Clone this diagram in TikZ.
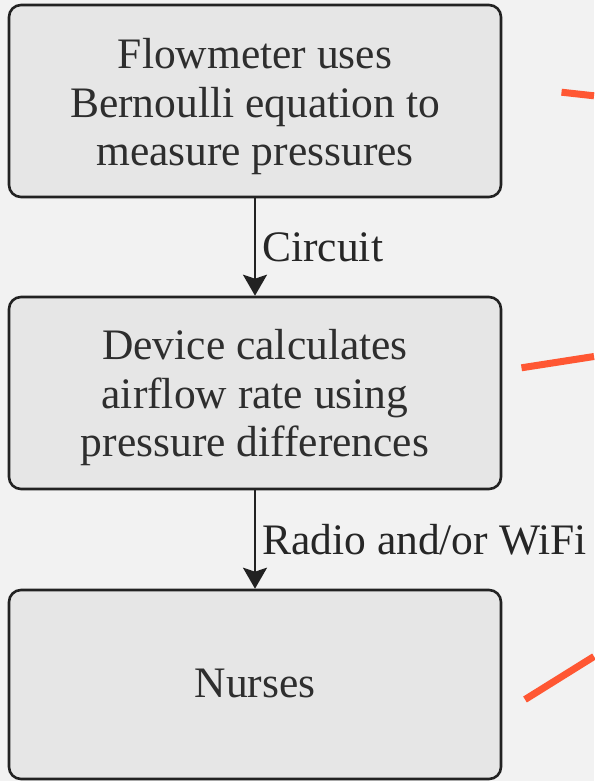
\documentclass[tikz,border=0pt]{standalone}
\usepackage{fontspec}
\setmainfont{Liberation Serif}
\usetikzlibrary{arrows.meta}

\definecolor{pagebg}{HTML}{F2F2F2}
\definecolor{boxfill}{HTML}{E6E6E6}
\definecolor{boxline}{HTML}{222222}
\definecolor{inktext}{HTML}{2E2E2E}
\definecolor{accent}{HTML}{FF5733}

\tikzset{
  stepbox/.style={draw=boxline, line width=2.6pt, fill=boxfill, rounded corners=12pt,
    minimum width=492pt, minimum height=192pt, inner sep=0pt},
  steptext/.style={align=center, text=inktext, inner sep=0pt,
    font=\fontsize{43.5}{48.5}\selectfont},
  flowarrow/.style={draw=boxline, line width=2.5pt,
    -{Stealth[length=21pt,width=24pt,inset=4pt]}},
  flowlabel/.style={anchor=west, xshift=6pt, inner sep=0pt, text=black!85,
    font=\fontsize{43.5}{48}\selectfont},
  accentline/.style={draw=accent, line width=7pt}
}

\begin{document}
\begin{tikzpicture}[x=1pt, y=-1pt]
  % page
  \fill[pagebg] (0,0) rectangle (594,781);
  \useasboundingbox (0,0) rectangle (594,781);

  % process steps
  \node[stepbox] (flow)   at (255,101)   {};
  \node[stepbox] (device) at (255,393)   {};
  \node[stepbox, minimum height=189pt] (nurses) at (255,684.5) {};

  % step texts
  \node[steptext, yshift=-6pt] (flowtext) at (flow.center)
    {Flowmeter uses\\Bernoulli equation to\\measure pressures};
  \node[steptext, yshift=-5pt] (devicetext) at (device.center)
    {Device calculates\\airflow rate using\\pressure differences};
  \node[steptext, yshift=1pt] (nursestext) at (nurses.center) {Nurses};

  % links between steps
  \draw[flowarrow] (flow.south) -- node[flowlabel] {Circuit} (device.north);
  \draw[flowarrow] (device.south) -- node[flowlabel] {Radio and/or WiFi} (nurses.north);

  % callout strokes on the right
  \coordinate (a1) at (561.5,92.2);  \coordinate (a2) at (594,95.8);
  \coordinate (b1) at (521.5,367.8); \coordinate (b2) at (594,356.5);
  \coordinate (c1) at (525,699.5);   \coordinate (c2) at (594,656.5);
  \draw[accentline] (a1) -- (a2);
  \draw[accentline] (b1) -- (b2);
  \draw[accentline] (c1) -- (c2);
\end{tikzpicture}
\end{document}
